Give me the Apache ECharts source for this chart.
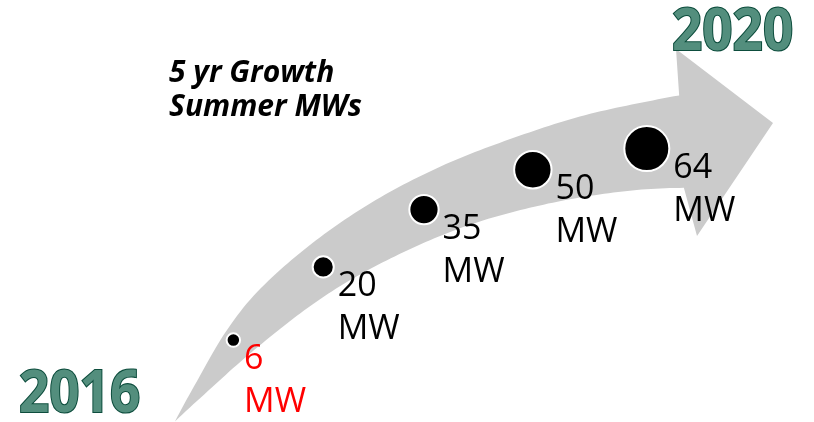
<!DOCTYPE html>
<html>
<head>
<meta charset="utf-8">
<script src="https://cdn.jsdelivr.net/npm/echarts@6/dist/echarts.min.js"></script>
<style>
  html, body { margin: 0; padding: 0; background: #ffffff; }
  #chart { width: 814px; height: 422px; }
</style>
</head>
<body>
<div id="chart"></div>
<script>
// ---- data ----
const years = [2016, 2017, 2018, 2019, 2020];
const summerMW = [6, 20, 35, 50, 64];
const unitLabel = 'MW';
const titleLines = ['5 yr Growth', 'Summer MWs'];

// ---- layout of the curved growth track (polar frame) ----
const ARC_CENTER = [717, 842];   // centre of the arc the arrow follows
const TRACK_R = 697;             // radius of the bubble track
const START_DEG = 133.94;        // angle of the first year
const DEG_PER_YEAR = 9.54;       // sweep per year (clockwise)

// arrow outline along the arc: [angle deg, inner radius, outer radius]
const arrowBody = [
  [142.2, 686, 686],
  [138.4, 680, 695],
  [134.0, 676, 708],
  [130.5, 674, 716],
  [125.0, 672, 722],
  [118.0, 668, 727],
  [112.0, 665, 730],
  [106.0, 661, 733],
  [100.0, 658, 739],
  [96.0, 656.5, 743],
  [92.9, 655, 747.5]
];
const arrowHead = [[676, 49], [773, 123], [697, 236]];

function hermite(knots, col, deg) {
  // cubic Hermite interpolation of one column of the knot table
  const n = knots.length;
  let i = 0;
  while (i < n - 2 && deg < knots[i + 1][0]) i++;
  const k0 = knots[i], k1 = knots[i + 1];
  const slope = j => {
    const a = knots[Math.max(j - 1, 0)], b = knots[Math.min(j + 1, n - 1)];
    return (b[col] - a[col]) / (b[0] - a[0]);
  };
  const h = k1[0] - k0[0];
  const t = (deg - k0[0]) / h;
  const t2 = t * t, t3 = t2 * t;
  return (2 * t3 - 3 * t2 + 1) * k0[col] + (t3 - 2 * t2 + t) * h * slope(i) +
         (-2 * t3 + 3 * t2) * k1[col] + (t3 - t2) * h * slope(i + 1);
}
function polarPx(r, deg) {
  const a = deg * Math.PI / 180;
  return [ARC_CENTER[0] + r * Math.cos(a), ARC_CENTER[1] - r * Math.sin(a)];
}
function arrowPolygon() {
  const a0 = arrowBody[0][0], a1 = arrowBody[arrowBody.length - 1][0];
  const steps = 120;
  const outer = [], inner = [];
  for (let s = 0; s <= steps; s++) {
    const d = a0 + (a1 - a0) * s / steps;
    outer.push(polarPx(hermite(arrowBody, 2, d), d));
    inner.push(polarPx(hermite(arrowBody, 1, d), d));
  }
  return outer.concat(arrowHead, inner.reverse());
}

const bubbleData = years.map((y, i) => ({
  value: [TRACK_R, y, summerMW[i]],
  label: i === 0 ? { color: '#ff0000' } : undefined
}));

// start / end year captions in green with a dark outline
function yearText(text, x, y) {
  return {
    type: 'text', x: x, y: y, scaleY: 1.12, z: 10,
    style: {
      text: String(text), font: 'bold 53px "Open Sans"',
      fill: '#538e7d', stroke: '#0d4d3d', lineWidth: 2,
      verticalAlign: 'top', align: 'left'
    }
  };
}

const chart = echarts.init(document.getElementById('chart'), null, { renderer: 'canvas' });
chart.setOption({
  animation: false,
  backgroundColor: '#ffffff',
  title: {
    text: titleLines.join('\n'),
    left: 164, top: 51,
    textStyle: {
      fontFamily: '"Open Sans"', fontWeight: 'bold', fontStyle: 'italic',
      fontSize: 30, lineHeight: 34, color: '#000000'
    }
  },
  polar: { center: ARC_CENTER, radius: [0, 1000] },
  radiusAxis: { type: 'value', min: 0, max: 1000, show: false },
  angleAxis: {
    type: 'value', min: years[0], max: years[0] + 360 / DEG_PER_YEAR,
    startAngle: START_DEG, clockwise: true, show: false
  },
  graphic: [
    { type: 'polygon', z: 0, shape: { points: arrowPolygon() }, style: { fill: '#cbcbcb' } },
    yearText(years[0], 19, 365),
    yearText(years[years.length - 1], 672, 3)
  ],
  series: [{
    type: 'scatter',
    coordinateSystem: 'polar',
    z: 3,
    data: bubbleData,
    symbol: 'circle',
    symbolSize: v => 10.24 + 0.543 * v[2],
    itemStyle: { color: '#000000', borderColor: '#ffffff', borderWidth: 2, opacity: 1 },
    label: {
      show: true, position: 'right', distance: 3,
      align: 'left', verticalAlign: 'top', offset: [0, -2],
      formatter: p => p.value[2] + '\n' + unitLabel,
      fontFamily: '"Open Sans"', fontSize: 34, lineHeight: 43, color: '#000000'
    },
    emphasis: { disabled: true }
  }]
});
</script>
</body>
</html>
